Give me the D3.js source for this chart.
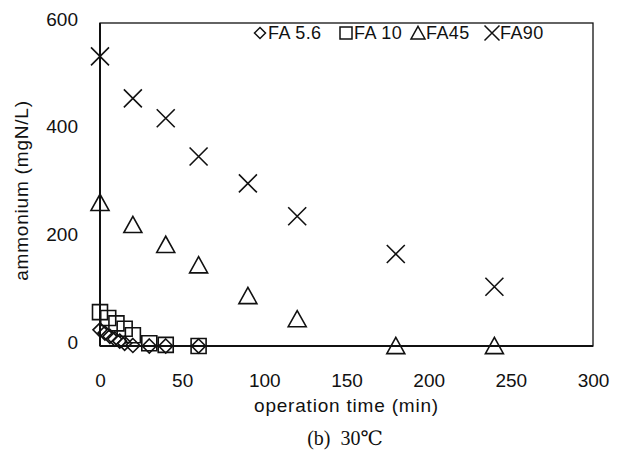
<!DOCTYPE html>
<meta charset="utf-8">
<script src="https://d3js.org/d3.v7.min.js"></script>
<style>
body { margin: 0; background: #fff; }
svg text { font-family: "Liberation Sans", Arial, Helvetica, sans-serif; fill: #111; }
</style>
<body>
<div id="chart"></div>
<script>

// data
var timesFA56 = [0, 3, 6, 9, 12, 15, 20, 30, 40, 60];
var valuesFA56 = [30, 24, 18, 13, 9, 5, 1, 0, 0, 0];
var timesFA10 = [0, 5, 10, 15, 20, 30, 40, 60];
var valuesFA10 = [63, 52, 42, 32, 20, 5, 2, 0];
var timesFA45 = [0, 20, 40, 60, 90, 120, 180, 240];
var valuesFA45 = [266, 225, 188, 150, 93, 50, 0, 0];
var timesFA90 = [0, 20, 40, 60, 90, 120, 180, 240];
var valuesFA90 = [538, 460, 423, 352, 302, 241, 171, 110];

var seriesNames = ["FA 5.6", "FA 10", "FA45", "FA90"];
var xTicks = [0, 50, 100, 150, 200, 250, 300];
var yTicks = [0, 200, 400, 600];

var margin = {top: 23, right: 29, bottom: 107, left: 100},
    width = 622 - margin.left - margin.right,
    height = 453 - margin.top - margin.bottom;

var svg = d3.select("#chart")
  .append("svg")
    .attr("width", 622)
    .attr("height", 453)
    .style("display", "block");

svg.append("rect").attr("width", 622).attr("height", 453).attr("fill", "#fff");

var g = svg.append("g")
    .attr("transform", "translate(" + margin.left + "," + margin.top + ")");

var x = d3.scaleLinear().domain([0, 300]).range([0, width]);
var y = d3.scaleLinear().domain([0, 600]).range([height, 0]);

// marker shapes, s = half size
function diamond(s) { return "M0," + (-s) + "L" + s + ",0L0," + s + "L" + (-s) + ",0Z"; }
function square(s) { return "M" + (-s) + "," + (-s) + "H" + s + "V" + s + "H" + (-s) + "Z"; }
function triangle(s) { return "M0," + (-s * 0.95) + "L" + s + "," + (s * 0.85) + "L" + (-s) + "," + (s * 0.85) + "Z"; }
function cross(s) { return "M" + (-s) + "," + (-s) + "L" + s + "," + s + "M" + s + "," + (-s) + "L" + (-s) + "," + s; }

var series = [
  {name: seriesNames[0], t: timesFA56, v: valuesFA56, shape: diamond, size: 7, lsize: 5.5},
  {name: seriesNames[1], t: timesFA10, v: valuesFA10, shape: square, size: 7.5, lsize: 6},
  {name: seriesNames[2], t: timesFA45, v: valuesFA45, shape: triangle, size: 9, lsize: 7},
  {name: seriesNames[3], t: timesFA90, v: valuesFA90, shape: cross, size: 9, lsize: 7.5}
];

// axes
var yAxis = g.append("g")
  .call(d3.axisLeft(y).tickValues(yTicks).tickSize(0).tickPadding(22));
yAxis.select(".domain").remove();
yAxis.selectAll("text")
  .style("font-size", "19px")
  .attr("dy", "0.12em");

var xAxis = g.append("g")
  .attr("transform", "translate(0," + height + ")")
  .call(d3.axisBottom(x).tickValues(xTicks).tickSize(0).tickPadding(28));
xAxis.select(".domain").remove();
xAxis.selectAll("text")
  .style("font-size", "19px");

// frame
g.append("rect")
  .attr("width", width)
  .attr("height", height)
  .attr("fill", "none")
  .attr("stroke", "#111")
  .attr("stroke-width", 1.3);
g.append("line")
  .attr("x1", 0).attr("x2", 0).attr("y1", 0).attr("y2", height)
  .attr("stroke", "#111").attr("stroke-width", 2);
g.append("line")
  .attr("x1", 0).attr("x2", width).attr("y1", height).attr("y2", height)
  .attr("stroke", "#111").attr("stroke-width", 2);

// points
series.forEach(function (s) {
  g.append("g")
    .selectAll("path")
    .data(d3.zip(s.t, s.v))
    .enter()
    .append("path")
      .attr("transform", function (d) { return "translate(" + x(d[0]) + "," + y(d[1]) + ")"; })
      .attr("d", s.shape(s.size))
      .attr("fill", "none")
      .attr("stroke", "#111")
      .attr("stroke-width", 1.6);
});

// legend
var legendX = [260, 346, 418, 492];
var legend = svg.append("g");
series.forEach(function (s, i) {
  legend.append("path")
    .attr("transform", "translate(" + legendX[i] + ",33)")
    .attr("d", s.shape(s.lsize))
    .attr("fill", "none")
    .attr("stroke", "#111")
    .attr("stroke-width", 1.5);
  legend.append("text")
    .attr("x", legendX[i] + 8)
    .attr("y", 39)
    .style("font-size", "18px")
    .style("letter-spacing", "0.4px")
    .text(s.name);
});

// axis titles
svg.append("text")
  .attr("x", margin.left + width / 2)
  .attr("y", 412)
  .attr("text-anchor", "middle")
  .style("font-size", "19px")
  .style("letter-spacing", "0.8px")
  .text("operation time (min)");

svg.append("text")
  .attr("transform", "translate(28," + (margin.top + height / 2 + 6) + ")rotate(-90)")
  .attr("text-anchor", "middle")
  .style("font-size", "19px")
  .style("letter-spacing", "0.8px")
  .text("ammonium (mgN/L)");

// caption
svg.append("text")
  .attr("x", 345)
  .attr("y", 445)
  .attr("text-anchor", "middle")
  .style("white-space", "pre")
  .style("font-family", "'Liberation Serif', 'DejaVu Serif', 'Noto Sans CJK JP', serif")
  .style("font-size", "20px")
  .text("(b)  30℃");

</script>
</body>
